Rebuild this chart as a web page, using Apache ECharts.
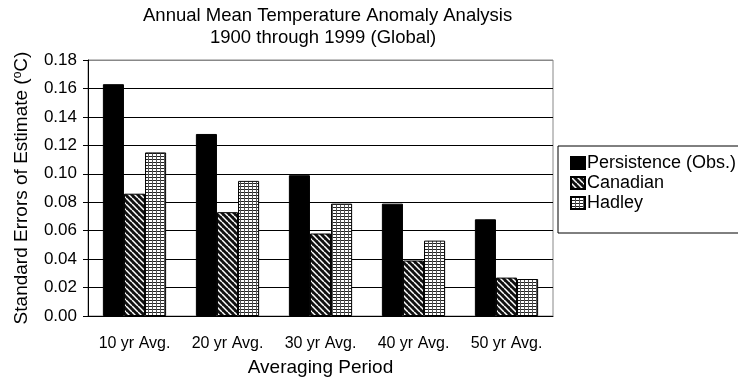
<!DOCTYPE html>
<html>
<head>
<meta charset="utf-8">
<script src="https://cdn.jsdelivr.net/npm/echarts@6/dist/echarts.min.js"></script>
<style>
  html, body { margin: 0; padding: 0; background: #fff; }
  #chart { width: 738px; height: 379px; }
</style>
</head>
<body>
<div id="chart"></div>
<script>
// Averaging periods and standard errors of estimate (deg C)
const categories = ['10 yr Avg.', '20 yr Avg.', '30 yr Avg.', '40 yr Avg.', '50 yr Avg.'];
const persistence = [0.163, 0.128, 0.099, 0.079, 0.068];
const canadian = [0.086, 0.073, 0.058, 0.039, 0.027];
const hadley = [0.115, 0.095, 0.079, 0.053, 0.026];
const seriesNames = ['Persistence (Obs.)', 'Canadian', 'Hadley'];
const titleLines = ['Annual Mean Temperature Anomaly Analysis', '1900 through 1999 (Global)'];

const FONT = '"Liberation Sans", Arial, sans-serif';

// Diagonal hatch fill for the Canadian model bars
function hatchPattern() {
  const c = document.createElement('canvas');
  c.width = 6; c.height = 6;
  const g = c.getContext('2d');
  g.fillStyle = '#111';
  g.fillRect(0, 0, 6, 6);
  g.strokeStyle = '#fff';
  g.lineWidth = 1.5;
  for (let x = -6; x <= 6; x += 6) {
    g.beginPath();
    g.moveTo(x, 0);
    g.lineTo(x + 6, 6);
    g.stroke();
  }
  return { image: c, repeat: 'repeat' };
}

// Fine grid fill for the Hadley model bars
function gridPattern() {
  const c = document.createElement('canvas');
  c.width = 4; c.height = 3;
  const g = c.getContext('2d');
  g.fillStyle = '#fff';
  g.fillRect(0, 0, 4, 3);
  g.fillStyle = '#222';
  g.fillRect(0, 0, 4, 1);
  g.fillStyle = '#555';
  g.fillRect(0, 0, 1, 3);
  return { image: c, repeat: 'repeat' };
}

const chart = echarts.init(document.getElementById('chart'), null, { renderer: 'canvas' });

const titleStyle = { fontFamily: FONT, fontSize: 18.5, fontWeight: 'normal', color: '#000' };

const option = {
  backgroundColor: '#fff',
  animation: false,
  textStyle: { fontFamily: FONT, color: '#000' },
  title: [
    { text: titleLines[0], left: 143, top: 6, padding: 0, textStyle: titleStyle },
    { text: titleLines[1], left: 210, top: 28, padding: 0, textStyle: titleStyle }
  ],
  legend: {
    orient: 'vertical',
    left: 558,
    top: 146,
    padding: [8, 10, 21, 12],
    icon: 'rect',
    itemWidth: 14,
    itemHeight: 12,
    itemGap: 2,
    borderColor: '#000',
    borderWidth: 1,
    data: seriesNames,
    textStyle: { fontFamily: FONT, fontSize: 18, color: '#000', lineHeight: 17, padding: [0, 0, 0, -3] }
  },
  grid: {
    left: 88, right: 185, top: 60, bottom: 63,
    outerBoundsMode: 'none',
    containLabel: false,
    show: true, borderColor: '#888', borderWidth: 1
  },
  xAxis: {
    type: 'category',
    data: categories,
    name: 'Averaging Period',
    nameLocation: 'middle',
    nameGap: 42,
    nameTextStyle: { fontFamily: FONT, fontSize: 19, color: '#000' },
    axisLine: { lineStyle: { color: '#000', width: 1 } },
    axisTick: { show: false },
    axisLabel: { fontFamily: FONT, fontSize: 16, color: '#000', margin: 20, interval: 0 }
  },
  yAxis: {
    type: 'value',
    min: 0, max: 0.18, interval: 0.02,
    name: 'Standard Errors of Estimate ({sup|o}C)',
    nameLocation: 'middle',
    nameGap: 57,
    nameTextStyle: {
      fontFamily: FONT, fontSize: 19, color: '#000',
      rich: { sup: { fontFamily: FONT, fontSize: 12, verticalAlign: 'top', color: '#000', padding: [0, 0, 6, 0] } }
    },
    axisLine: { show: true, lineStyle: { color: '#000', width: 1 } },
    axisTick: { show: true, length: 5, lineStyle: { color: '#000' } },
    axisLabel: {
      fontFamily: FONT, fontSize: 17, color: '#000', margin: 11,
      formatter: v => v.toFixed(2)
    },
    splitLine: {
      show: true,
      lineStyle: { color: ['#000', '#000', '#000', '#000', '#000', '#000', '#000', '#000', '#000', '#888'], width: 1 }
    }
  },
  series: [
    {
      name: seriesNames[0], type: 'bar', data: persistence,
      barGap: '0%', barCategoryGap: '32%',
      itemStyle: { color: '#000', borderColor: '#000', borderWidth: 1 }
    },
    {
      name: seriesNames[1], type: 'bar', data: canadian,
      barGap: '0%', barCategoryGap: '32%',
      itemStyle: { color: hatchPattern(), borderColor: '#000', borderWidth: 1 }
    },
    {
      name: seriesNames[2], type: 'bar', data: hadley,
      barGap: '0%', barCategoryGap: '32%',
      itemStyle: { color: gridPattern(), borderColor: '#000', borderWidth: 1 }
    }
  ]
};

chart.setOption(option);
</script>
</body>
</html>
